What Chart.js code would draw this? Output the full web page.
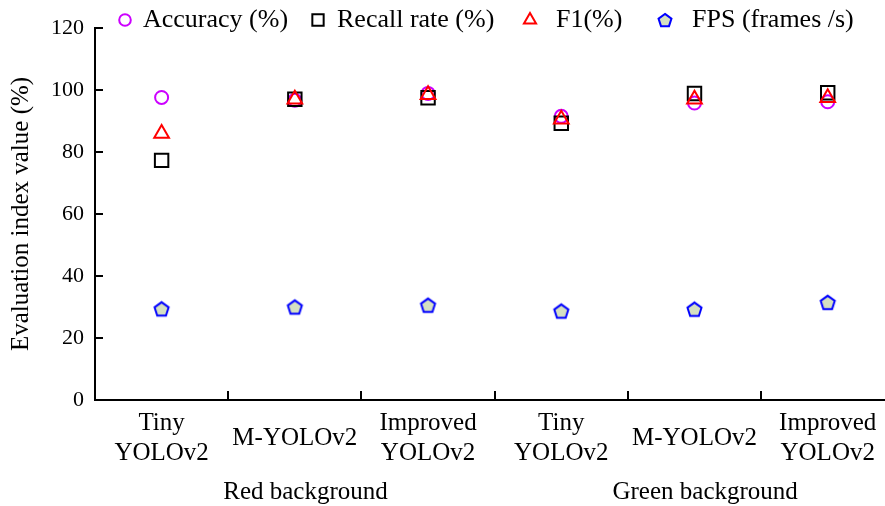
<!DOCTYPE html>
<html><head><meta charset="utf-8">
<script src="https://cdn.jsdelivr.net/npm/chart.js@4/dist/chart.umd.min.js"></script>
<style>html,body{margin:0;padding:0;background:#fff;overflow:hidden}#wrap{width:885px;height:506px;position:relative}</style>
</head><body><div id="wrap"><canvas id="c"></canvas></div>
<script>
const categories = [['Tiny','YOLOv2'],'M-YOLOv2',['Improved','YOLOv2'],['Tiny','YOLOv2'],'M-YOLOv2',['Improved','YOLOv2']];
const groups = ['Red background','Green background'];
const groupCenters = [1, 4];
const accuracy = [97.6, 96.7, 98.9, 91.5, 95.8, 96.2];
const recall   = [77.3, 97.0, 97.5, 89.3, 98.9, 99.1];
const f1       = [86.0, 97.0, 98.5, 90.6, 97.0, 97.5];
const fps      = [29.4, 30.0, 30.6, 28.7, 29.3, 31.5];
const seriesNames = ['Accuracy (%)','Recall rate (%)','F1(%)','FPS (frames /s)'];
const yMin = 0, yMax = 120, yStep = 20;
const xMin = -0.5, xMax = 5.43;   // last category is partly cut at the right edge, as in the original
const groupLabelShift = 0.08;

const FONT = '"Liberation Serif", "Times New Roman", serif';

function pts(arr){ return arr.map((v, i) => ({x: i, y: v})); }

function pentagon(r, lw){
  const s = Math.ceil(2*r + lw*2 + 2);
  const cv = document.createElement('canvas'); cv.width = s; cv.height = s;
  const g = cv.getContext('2d');
  const cx = s/2, cy = s/2 + r*0.1;
  g.beginPath();
  for (let k=0;k<5;k++){
    const a = -Math.PI/2 + k*2*Math.PI/5;
    const px = cx + r*Math.cos(a), py = cy + r*Math.sin(a);
    k ? g.lineTo(px,py) : g.moveTo(px,py);
  }
  g.closePath();
  g.fillStyle = '#d5e0c2'; g.fill();
  g.lineWidth = lw; g.strokeStyle = '#0000ff'; g.stroke();
  return cv;
}
const pent = pentagon(7.4, 2);
const pentLegend = pentagon(6.8, 2);

const inwardTicks = {
  id: 'inwardTicks',
  afterDraw(chart){
    const ctx = chart.ctx, x = chart.scales.x, y = chart.scales.y, a = chart.chartArea;
    ctx.save(); ctx.strokeStyle = '#000'; ctx.lineWidth = 2;
    y.ticks.forEach(t => {
      const py = Math.round(y.getPixelForValue(t.value));
      ctx.beginPath(); ctx.moveTo(a.left, py); ctx.lineTo(a.left + 8, py); ctx.stroke();
    });
    for (let i=0;i<categories.length-1;i++){
      const px = Math.round(x.getPixelForValue(i + 0.5));
      ctx.beginPath(); ctx.moveTo(px, a.bottom); ctx.lineTo(px, a.bottom - 9); ctx.stroke();
    }
    ctx.restore();
  }
};

const customLegend = {
  id: 'customLegend',
  afterDraw(chart, args, opts){
    const ctx = chart.ctx;
    ctx.save();
    ctx.font = '26px ' + FONT;
    ctx.textBaseline = 'middle';
    opts.items.forEach((it, i) => {
      const ds = chart.data.datasets[i];
      ctx.strokeStyle = ds.pointBorderColor; ctx.fillStyle = ds.pointBackgroundColor;
      ctx.lineWidth = 2;
      Chart.helpers.drawPoint(ctx, {pointStyle: i===3 ? pentLegend : ds.pointStyle, radius: it.r, borderWidth: 2, rotation: 0}, it.mx, opts.y);
      ctx.fillStyle = '#000';
      ctx.fillText(ds.label, it.tx, opts.y);
    });
    ctx.restore();
  }
};

function noSidePad(s){ s.paddingLeft = 0; s.paddingRight = 0; }

new Chart(document.getElementById('c'), {
  type: 'scatter',
  data: {
    datasets: [
      {label: seriesNames[0], data: pts(accuracy), pointStyle:'circle', pointRadius:6.5, pointBorderWidth:2, pointBorderColor:'#cc00ff', pointBackgroundColor:'rgba(0,0,0,0)', order:3},
      {label: seriesNames[1], data: pts(recall), pointStyle:'rect', pointRadius:9.5, pointBorderWidth:2, pointBorderColor:'#000000', pointBackgroundColor:'rgba(0,0,0,0)', order:2},
      {label: seriesNames[2], data: pts(f1), pointStyle:'triangle', pointRadius:8.5, pointBorderWidth:2, pointBorderColor:'#ff0000', pointBackgroundColor:'rgba(0,0,0,0)', order:1},
      {label: seriesNames[3], data: pts(fps), pointStyle:pent, pointRadius:8, pointBorderWidth:2, pointBorderColor:'#0000ff', pointBackgroundColor:'#d5e0c2', order:0}
    ]
  },
  options: {
    responsive: true, maintainAspectRatio: false, animation: false,
    layout: {autoPadding: false, padding: {top: 28, right: 0, left: 0, bottom: 0}},
    plugins: {
      legend: {display: false}, tooltip: {enabled: false},
      customLegend: {y: 20, items: [
        {mx:125, tx:143, r:5.8}, {mx:318, tx:337, r:8}, {mx:530, tx:556, r:7}, {mx:665, tx:692, r:7}
      ]}
    },
    scales: {
      x: {
        type: 'linear', min: xMin, max: xMax,
        afterBuildTicks(s){ s.ticks = categories.map((c, i) => ({value: i})); },
        grid: {display: false},
        border: {display: true, color: '#000', width: 2},
        ticks: {callback: (v) => categories[v], font: {family: FONT, size: 25, lineHeight: 1.2}, color: '#000', padding: 15, crossAlign: 'center', maxRotation: 0, autoSkip: false},
        afterFit(s){ s.height = 66; noSidePad(s); }
      },
      x2: {
        type: 'linear', position: 'bottom', min: xMin, max: xMax,
        afterBuildTicks(s){ s.ticks = groupCenters.map(c => ({value: c + groupLabelShift})); },
        grid: {display: false}, border: {display: false},
        ticks: {callback: (v, idx) => groups[idx], font: {family: FONT, size: 25, lineHeight: 1.2}, color: '#000', padding: 3, maxRotation: 0, autoSkip: false},
        afterFit(s){ s.height = 40; noSidePad(s); }
      },
      y: {
        min: yMin, max: yMax,
        ticks: {stepSize: yStep, font: {family: FONT, size: 22}, color: '#000', padding: 3},
        grid: {display: false},
        border: {display: true, color: '#000', width: 2},
        title: {display: true, text: 'Evaluation index value (%)', font: {family: FONT, size: 25}, color: '#000', padding: {top: 6, bottom: 4}},
        afterFit(s){ s.width = 95; }
      }
    }
  },
  plugins: [inwardTicks, customLegend]
});
</script>
</body></html>
